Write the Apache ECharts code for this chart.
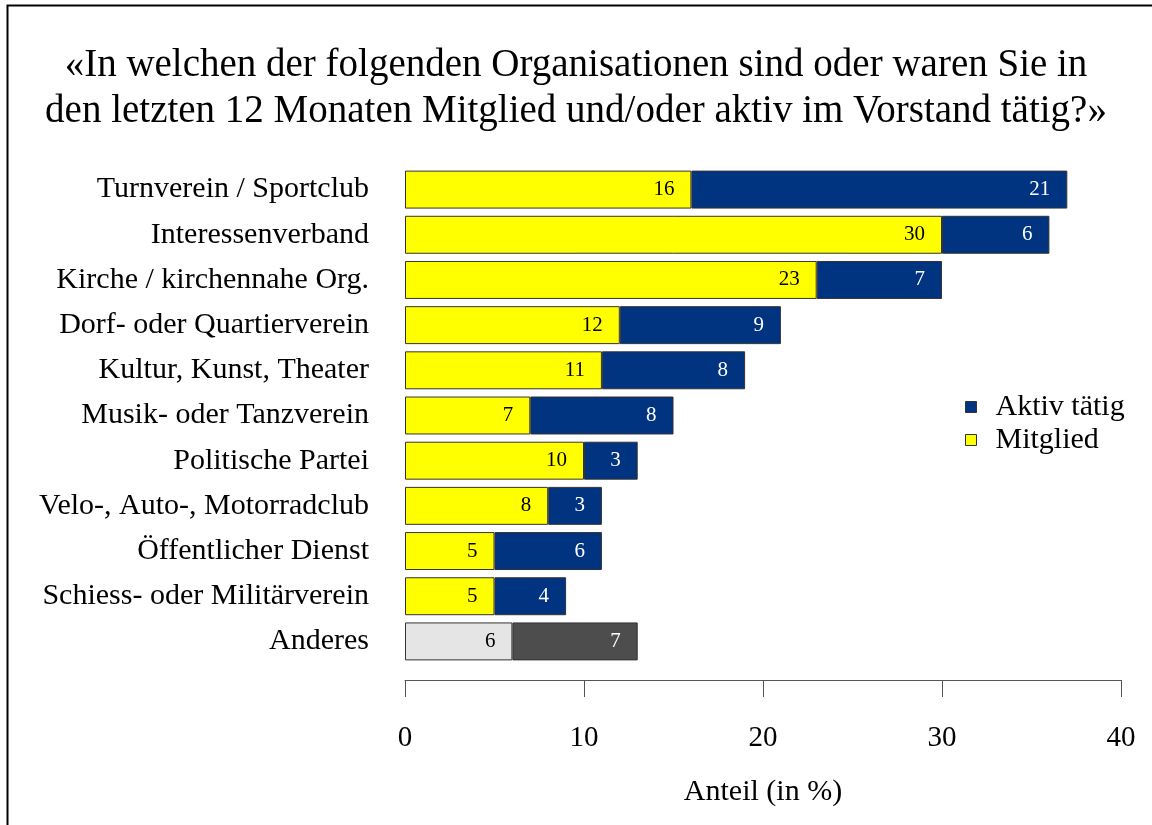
<!DOCTYPE html>
<html>
<head>
<meta charset="utf-8">
<script src="https://cdn.jsdelivr.net/npm/echarts@6/dist/echarts.min.js"></script>
<style>
  html, body { margin: 0; padding: 0; background: #fff; }
  #chart { width: 1152px; height: 825px; }
</style>
</head>
<body>
<div id="chart"></div>
<script>
// Survey: membership / active board role in organisations (share in %)
const categories = [
  'Turnverein / Sportclub',
  'Interessenverband',
  'Kirche / kirchennahe Org.',
  'Dorf- oder Quartierverein',
  'Kultur, Kunst, Theater',
  'Musik- oder Tanzverein',
  'Politische Partei',
  'Velo-, Auto-, Motorradclub',
  'Öffentlicher Dienst',
  'Schiess- oder Militärverein',
  'Anderes'
];
const mitglied    = [16, 30, 23, 12, 11, 7, 10, 8, 5, 5, 6];
const aktivTaetig = [21, 6, 7, 9, 8, 8, 3, 3, 6, 4, 7];
const xTicks = [0, 10, 20, 30, 40];

const FONT = '"Liberation Serif", "Times New Roman", serif';
const YELLOW = '#FFFF00', NAVY = '#003380';
const LIGHT_GREY = '#E5E5E5', DARK_GREY = '#4D4D4D';
const OTHER = 'Anderes';

function items(values, color, otherColor, labelColor, otherLabelColor) {
  return values.map((v, i) => {
    const isOther = categories[i] === OTHER;
    return {
      value: v,
      itemStyle: { color: isOther ? otherColor : color },
      label: { color: isOther ? otherLabelColor : labelColor }
    };
  });
}

const chart = echarts.init(document.getElementById('chart'));
chart.setOption({
  backgroundColor: '#ffffff',
  animation: false,
  title: {
    text: '«In welchen der folgenden Organisationen sind oder waren Sie in\nden letzten 12 Monaten Mitglied und/oder aktiv im Vorstand tätig?»',
    left: 'center',
    top: 38,
    textStyle: { fontFamily: FONT, fontSize: 39, fontWeight: 'normal', color: '#000', lineHeight: 46 }
  },
  legend: {
    orient: 'vertical',
    left: 960,
    top: 386,
    itemWidth: 11,
    itemHeight: 11,
    itemGap: 1,
    icon: 'rect',
    textStyle: { fontFamily: FONT, fontSize: 30, color: '#000', padding: [0, 0, 0, 14], lineHeight: 32 },
    data: [
      { name: 'Aktiv tätig', itemStyle: { color: NAVY, borderColor: '#333', borderWidth: 1 } },
      { name: 'Mitglied', itemStyle: { color: YELLOW, borderColor: '#333', borderWidth: 1 } }
    ]
  },
  grid: { left: 405, right: 31, top: 167, bottom: 161, containLabel: false },
  xAxis: {
    type: 'value',
    min: 0,
    max: 40,
    interval: 10,
    offset: 16,
    splitLine: { show: false },
    axisLine: { show: true, lineStyle: { color: '#555', width: 1 } },
    axisTick: { show: true, length: 17, lineStyle: { color: '#555', width: 1 } },
    axisLabel: {
      fontFamily: FONT, fontSize: 29, color: '#000', margin: 44,
      formatter: v => (xTicks.includes(v) ? String(v) : '')
    },
    name: 'Anteil (in %)',
    nameLocation: 'middle',
    nameGap: 97,
    nameTextStyle: { fontFamily: FONT, fontSize: 30, color: '#000' }
  },
  yAxis: {
    type: 'category',
    data: categories,
    inverse: true,
    axisLine: { show: false },
    axisTick: { show: false },
    axisLabel: { fontFamily: FONT, fontSize: 30, color: '#000', margin: 36 }
  },
  series: [
    {
      name: 'Mitglied',
      type: 'bar',
      stack: 'total',
      barCategoryGap: '16%',
      itemStyle: { borderColor: '#333', borderWidth: 1 },
      label: { show: true, position: 'insideRight', distance: 17, fontFamily: FONT, fontSize: 21 },
      data: items(mitglied, YELLOW, LIGHT_GREY, '#000', '#000')
    },
    {
      name: 'Aktiv tätig',
      type: 'bar',
      stack: 'total',
      barCategoryGap: '16%',
      itemStyle: { borderColor: '#333', borderWidth: 1 },
      label: { show: true, position: 'insideRight', distance: 17, fontFamily: FONT, fontSize: 21 },
      data: items(aktivTaetig, NAVY, DARK_GREY, '#fff', '#fff')
    }
  ],
  graphic: [
    {
      type: 'polyline',
      silent: true,
      shape: { points: [[7.5, 830], [7.5, 5.5], [1160, 5.5]] },
      style: { stroke: '#000', lineWidth: 2, fill: null }
    }
  ]
});
</script>
</body>
</html>
